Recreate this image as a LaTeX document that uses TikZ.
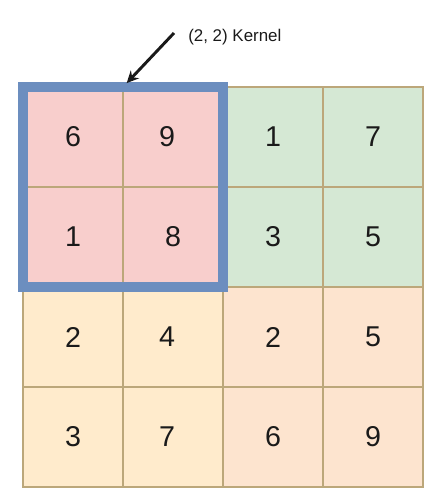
\documentclass[tikz,border=0pt]{standalone}
\usepackage{fontspec}
\setmainfont{Liberation Sans}
\usetikzlibrary{arrows.meta}
\definecolor{pinkf}{HTML}{F8CECC}
\definecolor{greenf}{HTML}{D5E8D4}
\definecolor{yellf}{HTML}{FFEBCC}
\definecolor{orgf}{HTML}{FDE4CF}
\definecolor{gridc}{HTML}{BCA77A}
\definecolor{kblue}{HTML}{6C8EBF}
\definecolor{txt}{HTML}{1A1A1A}
\begin{document}
\begin{tikzpicture}[x=0.75pt,y=-0.75pt,
  cell/.style={draw=gridc, line width=1.1pt, minimum width=75pt, minimum height=75pt,
    inner sep=0pt, outer sep=0pt, anchor=center, text=txt, font=\fontsize{21.5}{22}\selectfont},
  kernelbox/.style={draw=kblue, line width=7.5pt},
  pointer/.style={draw=txt, line width=2.2pt, -{Stealth[length=9pt,width=8.5pt]}, shorten >=4pt},
  lbl/.style={anchor=west, inner sep=0pt, text=txt, font=\fontsize{12.7}{15}\selectfont}]
\useasboundingbox (0,0) rectangle (438,495);
% row 0
\node[cell, fill=pinkf]  (c00) at (73,137)  {6};
\node[cell, fill=pinkf]  (c01) at (173,137) {\hspace*{-9pt}9};
\node[cell, fill=greenf] (c02) at (273,137) {1};
\node[cell, fill=greenf] (c03) at (373,137) {7};
% row 1
\node[cell, fill=pinkf]  (c10) at (73,237)  {1};
\node[cell, fill=pinkf]  (c11) at (173,237) {8};
\node[cell, fill=greenf] (c12) at (273,237) {3};
\node[cell, fill=greenf] (c13) at (373,237) {5};
% row 2
\node[cell, fill=yellf]  (c20) at (73,337)  {2};
\node[cell, fill=yellf]  (c21) at (173,337) {\hspace*{-9pt}4};
\node[cell, fill=orgf]   (c22) at (273,337) {2};
\node[cell, fill=orgf]   (c23) at (373,337) {5};
% row 3
\node[cell, fill=yellf]  (c30) at (73,437)  {3};
\node[cell, fill=yellf]  (c31) at (173,437) {\hspace*{-9pt}7};
\node[cell, fill=orgf]   (c32) at (273,437) {6};
\node[cell, fill=orgf]   (c33) at (373,437) {9};
% kernel frame
\draw[kernelbox] (c00.north west) rectangle (c11.south east);
% label and pointer
\node[lbl] (klabel) at (188,37) {(2, 2) Kernel};
\coordinate (tail) at (174,33);
\draw[pointer] (tail) -- (c00.north east);
\end{tikzpicture}
\end{document}
